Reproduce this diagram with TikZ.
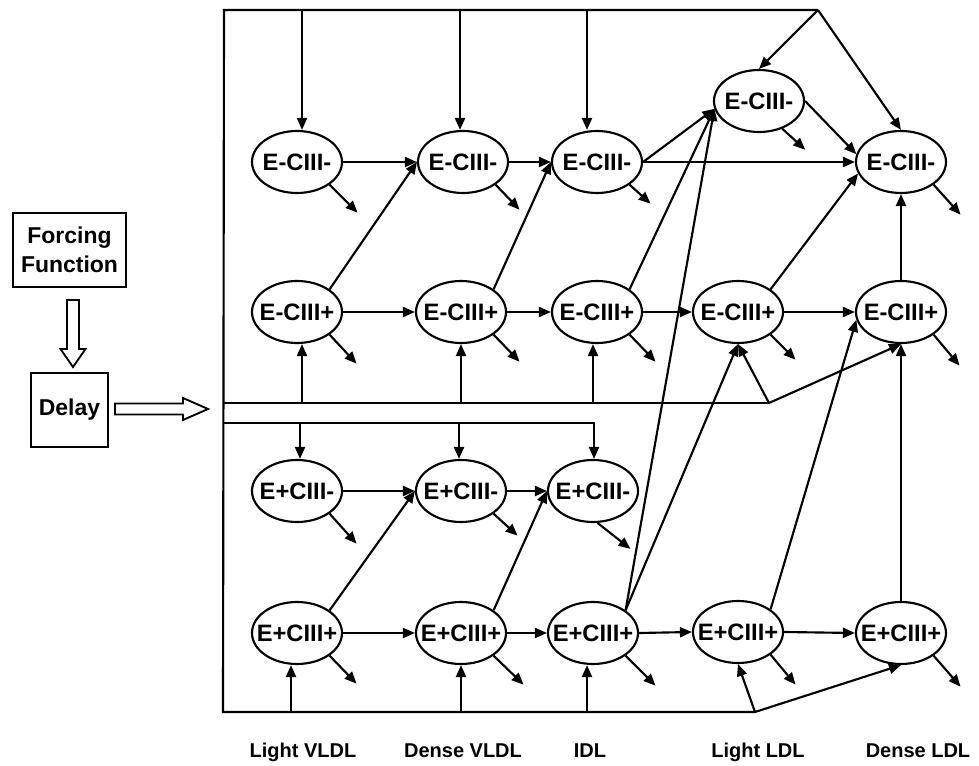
\documentclass[tikz,border=0pt]{standalone}
\usepackage{fontspec}
\setmainfont{Liberation Sans}
\usetikzlibrary{shapes.geometric,arrows.meta,calc}
\newcommand{\elab}[1]{\makebox[0pt]{#1}}
\begin{document}
\begin{tikzpicture}[x=0.75pt,y=-0.75pt,line width=1.6pt,
  el/.style={ellipse,draw,minimum width=67.5pt,minimum height=46.5pt,inner sep=0pt,font=\fontsize{17.8}{20}\selectfont\bfseries},
  box/.style={rectangle,draw,align=center,inner sep=0pt,font=\fontsize{17.2}{21.5}\selectfont\bfseries},
  arr/.style={-{Triangle[length=9pt,width=7.5pt]}},
  lbl/.style={anchor=base,font=\fontsize{15}{18}\selectfont\bfseries},
  hollow/.style={draw,line width=1.4pt,fill=white}]
\useasboundingbox (0,0) rectangle (979,766);

% left boxes
\node[box,minimum width=85pt,minimum height=55.5pt] (ff) at (69.5,250) {Forcing\\Function};
\node[box,minimum width=58pt,minimum height=55.5pt] (dl) at (69.5,410) {Delay};
\draw[hollow] (67,300) -- (79,300) -- (79,349) -- (85.5,349) -- (73,367) -- (60.5,349) -- (67,349) -- cycle;
\draw[hollow] (115,403.5) -- (183,403.5) -- (183,398) -- (208,409) -- (183,420) -- (183,414.5) -- (115,414.5) -- cycle;

% nodes
\node[el] (n11) at (297,162) {\elab{E-CIII-}};
\node[el] (n12) at (463,162) {\elab{E-CIII-}};
\node[el] (n13) at (597,162) {\elab{E-CIII-}};
\node[el] (n14) at (759,101) {\elab{E-CIII-}};
\node[el] (n15) at (901,162) {\elab{E-CIII-}};
\node[el] (n21) at (297,312) {\elab{E-CIII+}};
\node[el] (n22) at (461,312) {\elab{E-CIII+}};
\node[el] (n23) at (597,312) {\elab{E-CIII+}};
\node[el] (n24) at (738,312) {\elab{E-CIII+}};
\node[el] (n25) at (901,312) {\elab{E-CIII+}};
\node[el] (n31) at (297,491) {\elab{E+CIII-}};
\node[el] (n32) at (461,491) {\elab{E+CIII-}};
\node[el] (n33) at (593,491) {\elab{E+CIII-}};
\node[el] (n41) at (297,633) {\elab{E+CIII+}};
\node[el] (n42) at (461,633) {\elab{E+CIII+}};
\node[el] (n43) at (593,633) {\elab{E+CIII+}};
\node[el] (n44) at (738,632) {\elab{E+CIII+}};
\node[el] (n45) at (901,633) {\elab{E+CIII+}};

% frame and buses
\coordinate (tl) at (224,10);
\coordinate (tr) at (818,10);
\coordinate (bl) at (223,712);
\coordinate (br) at (755,712);
\coordinate (b1l) at (224,403);
\coordinate (b1r) at (769,403);
\coordinate (b2l) at (224,423);
\coordinate (b2r) at (594,423);
\draw (tr) -- (tl) -- (bl) -- (br);
\draw (b1l) -- (b1r);
\draw[arr] (b2l) -- (b2r) -- (b2r |- n33.north);

% top feeds
\coordinate (t1) at (302,10);
\coordinate (t2) at (460,10);
\coordinate (t3) at (587,10);
\draw[arr] (t1) -- (t1 |- n11.north);
\draw[arr] (t2) -- (t2 |- n12.north);
\draw[arr] (t3) -- (t3 |- n13.north);
\draw[arr] (tr) -- (n14.north);
\draw[arr] (tr) -- (n15.north);

% bottom feeds
\coordinate (u1) at (291,712);
\coordinate (u2) at (461,712);
\coordinate (u3) at (587,712);
\draw[arr] (u1) -- (u1 |- n41.south);
\draw[arr] (u2) -- (u2 |- n42.south);
\draw[arr] (u3) -- (u3 |- n43.south);
\draw[arr] (br) -- (n44.south);
\draw[arr] (br) -- (n45.south);

% bus 1 feeds
\coordinate (v1) at (302,403);
\coordinate (v2) at (461,403);
\coordinate (v3) at (593,403);
\draw[arr] (v1) -- (v1 |- n21.south);
\draw[arr] (v2) -- (v2 |- n22.south);
\draw[arr] (v3) -- (v3 |- n23.south);
\draw[arr] (b1r) -- (n24.south);
\draw[arr] (b1r) -- (n25.south);

% bus 2 feeds
\coordinate (w1) at (300,423);
\coordinate (w2) at (459,423);
\draw[arr] (w1) -- (w1 |- n31.north);
\draw[arr] (w2) -- (w2 |- n32.north);

% horizontal transfers
\draw[arr] (n11.east) -- (n12.west);
\draw[arr] (n12.east) -- (n13.west);
\draw[arr] (n13.east) -- (n15.west);
\draw[arr] (n21.east) -- (n22.west);
\draw[arr] (n22.east) -- (n23.west);
\draw[arr] (n23.east) -- (n24.west);
\draw[arr] (n24.east) -- (n25.west);
\draw[arr] (n31.east) -- (n32.west);
\draw[arr] (n32.east) -- (n33.west);
\draw[arr] (n41.east) -- (n42.west);
\draw[arr] (n42.east) -- (n43.west);
\draw[arr] (n43.east) -- (n44.west);
\draw[arr] (n44.east) -- (n45.west);

% diagonal transfers
\draw[arr] (n13.east) -- (n14.190);
\draw[arr] (n14.east) -- (n15.170);
\draw[arr] (n21.north east) -- (n12.west);
\draw[arr] (n22.north east) -- (n13.west);
\draw[arr] (n23.north east) -- (n14.190);
\draw[arr] (n24.north east) -- (n15.195);
\draw[arr] (n41.north east) -- (n32.west);
\draw[arr] (n42.north east) -- (n33.west);
\draw[arr] (n43.north east) -- (n14.190);
\draw[arr] (n43.north east) -- (n24.south);
\draw[arr] (n44.north east) -- (n25.190);
\draw[arr] (n25.north) -- (n15.south);
\draw[arr] (n45.north) -- (n25.south);

% outflows
\foreach \n/\dx/\dy in {n11/28/28,n12/24/25,n13/21/19,n15/27/30,n21/27/29,n22/26/27,n23/26/27,n24/25/25,n25/26/31,n31/27/30,n32/24/22,n41/27/28,n42/30/29,n43/30/30,n44/25/30,n45/27/31}
  \draw[arr] (\n.south east) -- ++(\dx,\dy);
\draw[arr] (n14.-50) -- ++(23,21);
\draw[arr] (n33.-82) -- ++(33,26);

% column labels
\node[lbl] (l1) at (303,757) {Light VLDL};
\node[lbl] (l2) at (463,757) {Dense VLDL};
\node[lbl] (l3) at (590,757) {IDL};
\node[lbl] (l4) at (758,757) {Light LDL};
\node[lbl] (l5) at (918,757) {Dense LDL};
\end{tikzpicture}
\end{document}
